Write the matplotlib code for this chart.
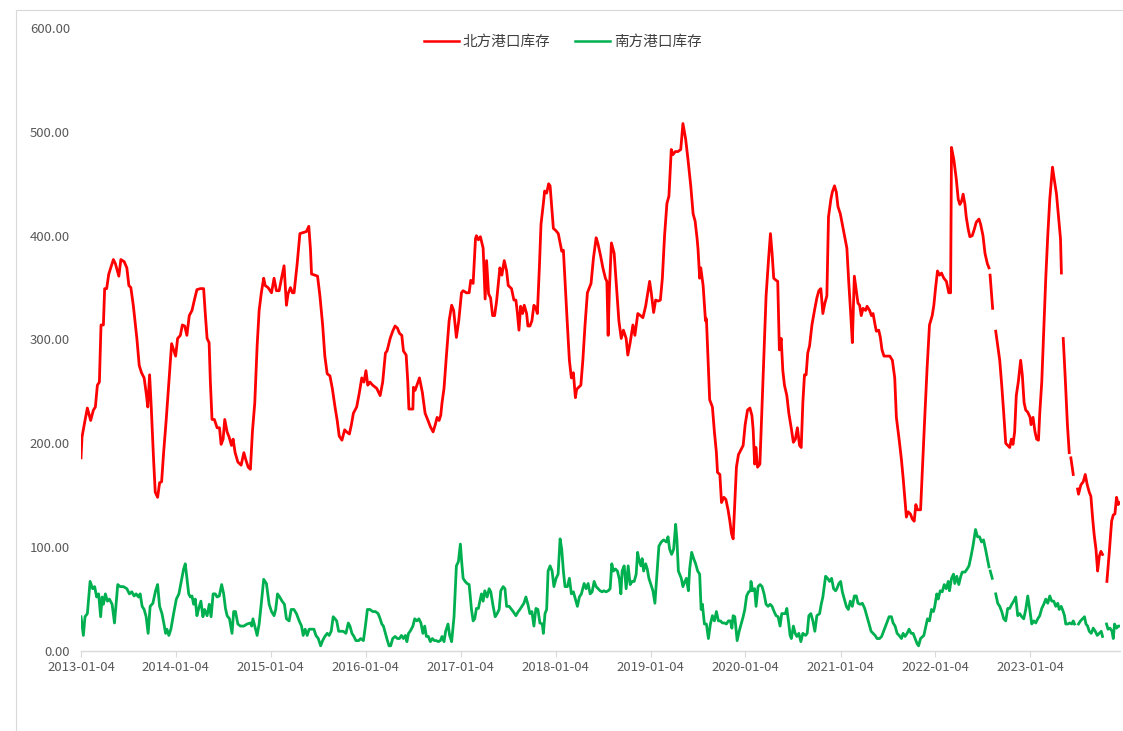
import numpy as np
import matplotlib
matplotlib.use("Agg")
import matplotlib.pyplot as plt
import matplotlib.dates as mdates
from matplotlib.patches import Rectangle

plt.rcParams['font.family'] = ['Noto Sans CJK SC', 'DejaVu Sans']

nan = np.nan
start_date = np.datetime64('2013-01-04')

# (weeks since 2013-01-04, value) -- nan marks a missing week
north = [
    (0.0,186),(0.55,206),(2.2,222),(3.5,234),(5.3,222),(6.8,232),(7.9,235),(9.0,256),(10.1,259),(11.0,314),
    (12.3,314),(13.0,349),(14.1,349),(15.25,363),(16.35,369),(17.8,377),(18.9,373),(20.8,361),(21.9,377),(23.7,375),
    (25.2,369),(26.3,352),(27.4,350),(28.8,332),(30.7,301),(32.0,275),(33.25,268),(34.7,263),(36.0,246),(36.7,235),
    (37.7,266),(38.6,235),(39.9,184),(40.8,153),(42.1,148),(43.2,162),(44.3,163),(45.4,191),(46.8,222),(48.3,259),
    (49.8,296),(50.9,290),(52.0,284),(53.1,301),(54.6,304),(55.7,314),(57.0,313),(58.2,304),(59.5,323),(61.0,328),
    (62.3,338),(63.7,348),(65.6,349),(67.4,349),(68.3,325),(69.3,301),(70.4,297),(71.1,259),(72.0,223),(73.3,223),
    (74.8,215),(76.1,215),(77.0,199),(78.1,204),(79.0,223),(80.3,211),(81.4,206),(82.7,198),(83.6,204),(84.7,191),
    (86.2,182),(88.0,179),(89.5,191),(90.6,184),(91.9,177),(93.1,175),
    (94.2,211),(95.5,239),(96.8,294),(97.9,328),(99.1,345),(100.4,359),(101.2,352),(102.8,350),(104.7,345),(106.1,359),
    (107.4,347),(108.9,347),(110.2,359),(111.6,371),(112.9,333),(113.8,344),(115.1,350),(116.2,345),(117.1,345),(118.8,373),
    (120.3,402),(122.1,403),(123.9,404),(125.2,409),(126.1,387),(126.7,363),(128.5,362),(130.0,361),(131.3,342),(132.8,314),
    (134.0,284),(135.3,267),(136.8,265),(138.1,253),(139.6,235),(140.8,222),(141.9,207),(143.4,203),(144.9,213),(146.0,211),
    (147.5,209),(148.6,218),(149.7,229),(151.5,235),(153.0,249),(154.3,263),(155.5,259),(156.6,270),(157.6,256),(158.8,259),
    (160.3,256),(162.5,253),(164.4,246),(165.8,259),(167.3,287),(168.2,289),(169.9,301),(171.3,308),(172.6,313),(173.9,311),
    (175.0,306),(176.3,304),(177.2,289),(178.7,285),(179.6,259),(180.2,233),(181.3,233),(182.4,233),(182.7,254),(183.6,251),
    (184.6,256),(186.0,263),
    (187.6,249),(189.1,229),(190.7,222),(192.0,216),(193.5,211),(194.7,218),(195.7,225),(196.8,222),(197.7,227),(198.4,239),
    (199.5,253),(200.8,284),(202.3,318),(203.7,333),(204.8,328),(206.3,302),(207.6,318),(209.1,345),(210.0,347),(211.8,345),
    (213.3,345),(214.2,357),(215.5,354),(216.8,397),(217.3,400),(218.4,396),(219.5,399),(221.0,388),(222.1,339),(222.9,376),
    (224.0,344),(225.1,340),(226.2,323),(227.3,323),(228.4,337),(230.2,369),(231.3,362),(232.6,376),(233.9,366),(234.8,352),
    (236.6,349),(237.9,338),(239.0,338),(239.8,326),(240.7,309),(241.6,332),(242.7,325),(243.6,333),(244.9,325),(245.6,313),
    (246.7,313),(247.8,318),(248.9,333),(250.0,330),(250.8,325),(251.9,369),(252.8,411),(254.1,431),(254.8,443),(255.9,441),
    (257.0,450),(257.8,448),(258.7,428),(259.6,407),(260.9,405),(262.3,402),(263.3,393),(264.2,385),(265.1,386),(266.2,349),
    (267.3,314),(268.4,280),(269.5,263),(270.6,268),(271.7,244),(272.4,252),(273.5,254),(274.7,256),(275.8,280),(277.0,314),
    (278.3,345),
    (280.3,354),(281.6,378),(283.1,398),(284.0,393),(285.5,381),(286.8,369),(288.2,359),(289.0,356),(289.7,304),(290.4,349),
    (291.5,393),(293.0,383),(294.1,356),(295.6,318),(296.9,301),(298.1,309),(299.6,301),(300.5,285),(301.8,297),(303.3,314),
    (304.4,304),(306.0,325),(307.5,323),(308.8,321),(310.3,332),(311.2,342),(312.5,356),(313.4,345),(314.7,326),(315.8,338),
    (317.3,337),(318.4,338),(319.5,359),(320.7,400),(322.0,431),(323.1,438),(324.4,483),(325.3,478),(326.6,481),(328.1,481),
    (329.6,483),(330.8,508),(332.3,493),(333.6,473),(335.1,448),(336.4,421),(337.5,414),(338.6,397),(339.1,387),(340.0,359),
    (340.6,369),(341.9,352),(343.2,318),(343.7,320),(344.6,280),(345.5,242),(347.0,235),(348.1,211),(349.2,191),(349.8,172),
    (351.1,170),(352.0,143),(353.3,148),(354.4,146),(355.6,136),(356.6,125),(357.5,113),(358.4,108),(359.3,143),(360.2,177),
    (361.3,189),(363.0,195),(363.9,198),(365.0,218),(366.3,232),(367.6,234),(368.7,227),(369.4,213),(370.2,180),(370.9,196),
    (371.8,177),(373.1,180),
    (373.9,218),(375.0,273),(376.5,342),(377.8,376),(378.9,402),(379.8,383),(380.7,359),(382.0,357),(382.9,356),(383.8,290),
    (384.8,301),(385.7,270),(386.6,256),(387.9,246),(389.0,229),(390.3,215),(391.5,201),(392.6,204),(393.7,215),(394.9,198),
    (395.8,196),(396.7,239),(397.6,266),(398.5,266),(399.4,287),(400.4,294),(401.7,314),(403.1,328),(404.4,340),(405.5,347),
    (406.6,349),(407.7,325),(408.8,335),(409.9,342),(410.8,418),(412.1,435),(412.9,442),(414.1,448),(415.1,442),(416.0,428),
    (417.3,421),(418.4,411),(419.7,399),(420.9,388),(421.9,356),(423.0,325),(423.9,297),(425.0,361),(426.1,347),(427.0,335),
    (427.9,333),(428.8,323),(429.8,330),(431.2,328),(432.0,332),(433.4,328),(434.4,323),(435.3,325),(436.4,314),(437.1,308),
    (438.4,309),(439.3,302),(440.2,290),(441.3,284),(442.6,284),(444.5,284),(445.9,280),(447.2,263),(448.1,225),(449.6,204),
    (450.9,184),(451.8,167),(452.9,143),(453.6,129),(454.6,134),(455.8,132),(456.9,127),(457.9,125),(458.8,141),(459.7,136),
    (461.4,136),
    (462.2,167),(463.7,225),(465.0,273),(466.3,314),(467.8,323),(468.7,333),(469.6,349),(470.7,366),(471.8,362),(472.9,364),
    (474.2,359),(475.6,356),(476.9,345),(477.9,345),(478.4,485),(479.7,473),(481.0,455),(482.1,435),(483.0,430),(483.9,433),
    (484.8,440),(485.8,430),(486.5,418),(487.6,406),(488.5,399),(489.8,400),(490.9,406),(492.0,413),(493.5,416),(494.4,411),
    (495.7,400),(496.8,383),(498.1,373),(499.0,369),(499.3,nan),(499.6,362),(501.0,330),(501.8,nan),(502.7,308),(503.8,294),
    (504.9,280),(506.0,256),(507.1,229),(508.2,200),(509.3,198),(510.4,196),(511.3,204),(512.2,199),(513.1,211),(514.0,246),
    (515.1,259),(516.4,280),(517.3,266),(518.3,239),(519.2,232),(520.3,230),(521.6,225),(522.1,218),(523.2,225),(524.3,211),
    (525.2,204),(526.2,203),(526.9,229),(528.0,259),(529.1,308),(530.2,359),(531.3,400),(532.4,435),(533.9,466),(534.8,455),
    (536.1,440),(537.2,418),(538.3,397),(538.8,364),(539.3,nan),(539.8,301),(540.9,263),(542.1,218),(543.1,191),(543.5,nan),
    (544.0,186),(545.3,170),(546.5,nan),(547.7,156),(548.2,151),(549.5,160),(550.8,163),(551.9,170),(553.0,160),(554.1,153),
    (555.0,149),(555.9,129),(556.8,112),(557.8,98),(558.7,77),(559.6,91),(560.5,96),(561.4,93),(562.6,nan),(563.8,67),
    (565.1,95),(566.4,125),(567.3,131),(568.2,132),(569.1,148),(570.0,141),(570.6,143),
]

south = [
    (0.0,33),(1.3,15),(2.2,33),(3.5,36),(5.0,67),(6.4,60),(7.5,62),(8.6,52),(9.7,55),(10.8,33),
    (11.6,52),(12.3,45),(13.4,55),(14.5,48),(15.6,50),(17.1,45),(18.4,27),(19.3,45),(20.2,64),(21.5,62),
    (23.3,62),(25.2,60),(26.6,55),(27.9,57),(29.2,53),(30.3,55),(31.6,52),(32.5,55),(33.6,43),(34.7,40),
    (35.8,33),(36.9,17),(38.0,43),(39.5,46),(41.0,58),(42.1,64),(43.2,43),(44.5,36),(45.6,26),(46.5,17),
    (47.2,21),(48.3,15),(49.4,21),(50.9,36),(52.4,50),(53.8,55),(55.1,67),(56.4,79),(57.3,84),(58.2,70),
    (59.2,55),(60.1,52),(61.0,53),(61.9,45),(62.8,50),(63.7,34),(64.7,41),(65.9,48),(67.0,33),(67.9,40),
    (69.3,34),(70.5,45),(71.5,33),(72.6,55),(73.8,55),(74.8,52),(76.0,53),(77.3,64),(78.4,55),(79.4,41),
    (80.3,34),(81.6,31),(83.0,17),(83.9,38),(84.9,38),(86.2,26),(87.6,24),(89.5,24),(91.3,26),(93.1,27),
    (93.8,24),(94.5,31),(95.5,24),(96.8,15),(97.9,26),(99.1,46),(100.4,69),(101.9,65),(103.4,45),(104.7,38),
    (106.1,34),(107.0,40),(108.0,55),(109.2,52),(110.5,48),(111.8,45),(112.9,31),(114.4,29),(115.5,40),(117.0,40),
    (118.4,36),(119.9,29),(121.2,24),(122.1,15),(123.2,21),(124.3,15),(125.4,21),(126.5,21),(128.0,21),(129.1,15),
    (130.4,12),(131.7,5),(132.8,10),(134.0,14),(135.3,17),(136.4,15),(137.5,19),(138.6,33),(139.6,31),(140.5,29),
    (141.6,19),(142.9,19),(144.1,19),(145.6,17),(146.9,27),(147.8,24),(148.9,17),(150.0,14),(151.1,10),(152.6,10),
    (153.7,12),(155.2,10),(156.3,24),(157.4,40),(158.8,40),(160.3,38),(161.8,38),(163.3,36),(164.4,31),(165.3,26),
    (166.2,24),(167.3,17),(168.4,10),(169.3,5),(170.2,5),(171.3,12),(172.6,14),(173.9,12),(175.0,12),(176.1,15),
    (177.2,12),(178.3,15),(179.1,9),(180.0,17),(180.9,19),
    (182.4,24),(183.4,31),(184.6,29),(185.7,31),(186.8,27),(187.9,17),(188.9,24),(189.8,14),(190.9,14),(192.0,9),
    (193.1,12),(194.2,10),(195.3,10),(196.4,9),(197.5,10),(198.4,14),(199.5,9),(200.4,19),(201.7,26),(202.6,15),
    (203.7,9),(205.0,33),(206.3,82),(207.4,86),(208.5,103),(209.3,84),(210.0,70),(211.1,67),(212.2,65),(213.3,64),
    (214.6,40),(215.5,29),(216.4,31),(217.3,41),(218.4,41),(219.2,48),(220.1,55),(221.0,48),(221.9,58),(223.2,52),
    (224.3,60),(225.2,57),(226.5,43),(227.6,33),(228.7,36),(229.8,40),(230.7,58),(232.0,62),(233.0,60),(233.9,43),
    (235.3,43),(236.6,40),(237.5,38),(239.0,34),(240.3,38),(241.2,40),(242.3,43),(243.4,46),(244.5,52),(245.6,45),
    (246.7,36),(247.8,38),(248.9,24),(250.0,41),(251.1,40),(252.2,27),(253.5,26),(254.1,17),(255.0,36),(255.9,40),
    (256.7,77),(257.8,82),(258.9,77),(259.9,62),(261.1,70),(262.2,74),(263.3,108),(264.2,98),(265.1,77),(266.0,62),
    (267.3,62),(268.4,70),(269.5,55),(270.6,57),(271.7,50),(272.8,43),(273.9,52),(275.0,55),
    (276.5,65),(277.6,60),(278.7,65),(279.8,55),(280.9,57),(282.0,67),(283.1,62),(284.2,60),(285.3,58),(286.4,57),
    (287.3,58),(288.6,57),(289.7,58),(290.8,60),(291.7,84),(292.6,77),(293.7,79),(294.8,77),(295.9,69),(296.7,55),
    (297.4,77),(298.5,82),(299.6,60),(300.7,82),(301.8,64),(302.9,67),(304.0,67),(305.1,74),(305.9,95),(306.6,88),
    (307.7,82),(308.4,89),(309.2,77),(310.3,84),(311.2,79),(312.1,70),(313.2,64),(314.3,58),(315.4,46),(316.5,74),
    (317.6,101),(318.9,105),(320.2,107),(321.7,105),(322.6,110),(323.5,98),(324.6,93),(325.7,98),(326.8,122),(327.5,107),
    (328.3,77),(329.0,74),(329.9,70),(330.8,62),(331.9,67),(332.7,70),(333.8,58),(334.5,79),(335.6,95),(336.7,89),
    (337.8,84),(338.9,77),(340.0,74),(340.8,40),(341.5,45),(342.6,26),(343.7,26),(344.8,12),(345.9,26),(347.0,34),
    (348.1,29),(349.2,38),(350.3,29),(351.4,29),(352.5,27),(353.6,27),(354.7,26),(355.8,29),(356.9,29),(357.7,22),
    (358.4,34),(359.3,33),(360.6,10),(361.7,19),(362.8,26),(363.9,33),(364.8,40),(365.8,53),(366.9,57),(367.9,58),
    (368.2,67),(369.1,58),(370.2,60),(371.0,43),(372.1,62),(373.2,64),(374.3,62),(375.4,55),(376.5,45),(377.6,43),
    (378.7,45),(379.8,43),(380.9,38),(382.0,34),(383.1,33),(384.2,24),(385.1,36),(386.0,36),(387.1,36),(387.9,41),
    (389.0,26),(389.7,15),(390.4,12),(391.5,24),(392.5,17),(393.4,14),(394.5,17),(395.6,9),(396.7,17),(398.2,15),
    (399.1,17),(400.0,34),(401.1,36),(402.2,29),(403.3,19),(404.4,34),(405.9,36),(406.8,45),(407.7,52),(409.2,72),
    (410.3,70),(411.4,67),(412.5,70),(413.6,60),(414.7,58),(415.4,60),(416.5,65),(417.5,67),(418.4,57),(419.5,50),
    (420.6,43),(421.7,40),(422.8,48),(423.9,43),(425.0,53),(426.1,53),(427.0,46),(428.3,45),(429.4,46),(430.7,41),
    (432.0,33),(433.1,26),(434.2,19),(435.3,17),(436.4,15),(437.5,12),(438.9,12),(440.0,14),(441.1,19),(442.6,26),
    (444.1,33),(445.4,33),(446.3,27),(447.4,24),(448.5,17),(449.6,15),(450.9,12),(451.8,17),(452.9,14),(454.0,17),
    (455.1,21),(456.2,17),(457.3,17),(458.4,12),(459.5,7),(460.3,5),(461.4,12),
    (463.2,15),(464.1,22),(465.2,31),(466.3,29),(467.4,40),(468.5,38),(469.2,43),(470.3,55),(471.1,50),(472.2,58),
    (473.3,57),(474.4,64),(475.5,60),(476.6,67),(477.3,58),(478.4,70),(479.5,74),(480.2,65),(481.3,72),(482.4,64),
    (483.5,72),(484.3,76),(485.8,76),(487.0,79),(488.0,82),(489.1,91),(490.2,101),(491.6,117),(492.7,110),(493.8,110),
    (494.9,105),(496.0,107),(497.1,98),(498.2,88),(499.0,81),(499.3,nan),(499.7,77),(500.8,70),(501.8,nan),(502.7,55),
    (503.8,46),(504.9,43),(506.0,38),(507.1,31),(508.2,29),(509.3,41),(510.4,41),(511.5,45),(512.6,48),(513.7,52),
    (514.8,34),(515.9,36),(517.0,33),(518.1,31),(519.2,40),(520.3,53),(521.4,40),(522.5,26),(523.6,29),(524.7,27),
    (525.8,31),(526.9,34),(528.0,41),(529.1,45),(530.2,50),(531.3,46),(532.4,53),(533.5,48),(534.6,48),(535.7,43),
    (536.8,46),(537.6,40),(538.7,43),(539.8,38),(540.5,34),(541.2,26),(542.3,26),(543.4,27),(544.5,26),(545.3,29),
    (546.0,26),(546.5,nan),(548.2,26),(549.3,29),(550.4,31),(551.5,33),(552.3,26),(553.2,24),(554.1,19),(555.2,17),
    (556.3,22),(557.4,19),(558.5,15),(559.6,17),(560.7,19),(561.4,14),(562.6,nan),(563.6,26),(564.4,21),(565.5,22),
    (566.6,19),(567.3,12),(568.0,26),(569.1,22),(570.0,24),(570.6,24),
]

labels = ['北方港口库存', '南方港口库存']
colors = ['#FF0000', '#00B050']
yticks = [0, 100, 200, 300, 400, 500, 600]


def to_dates(series):
    arr = np.array(series, dtype=float)
    x = mdates.date2num(start_date) + arr[:, 0] * 7
    return x, arr[:, 1]


fig = plt.figure(figsize=(11.23, 7.31), dpi=100)
ax = fig.add_axes([81 / 1123, 1 - 651 / 731, 1039 / 1123, 623 / 731])

for series, lab, col in zip([north, south], labels, colors):
    x, y = to_dates(series)
    ax.plot(x, y, color=col, lw=2.0, label=lab, solid_joinstyle='round')

x0 = mdates.date2num(start_date)
ax.set_xlim(x0, x0 + 571 * 7)
ax.set_ylim(0, 600)
ax.set_yticks(yticks)
ax.yaxis.set_major_formatter(plt.FuncFormatter(lambda v, p: f"{v:.2f}"))
ax.xaxis.set_major_locator(mdates.YearLocator(base=1, month=1, day=4))
ax.xaxis.set_major_formatter(mdates.DateFormatter('%Y-%m-%d'))

for s in ['left', 'right', 'top']:
    ax.spines[s].set_visible(False)
ax.spines['bottom'].set_color('#D9D9D9')
ax.spines['bottom'].set_linewidth(1.0)
ax.tick_params(axis='y', length=0, pad=8, labelsize=9.5, labelcolor='#595959')
ax.tick_params(axis='x', length=4, width=0.8, color='#D9D9D9', pad=3,
               labelsize=9.5, labelcolor='#595959')

leg = ax.legend(loc='center', bbox_to_anchor=(0.464, 0.9775), ncol=2, frameon=False,
                fontsize=10.5, handlelength=2.4, handletextpad=0.25, columnspacing=1.7,
                labelcolor='#404040')
for h in leg.get_lines():
    h.set_linewidth(1.8)

# outer chart frame (cropped at right and bottom)
fig.patches.append(Rectangle((16 / 1123, -0.1), 1.2, 1.1 - 10 / 731,
                             transform=fig.transFigure, fill=False,
                             edgecolor='#D9D9D9', lw=0.8))

fig.savefig('out.png', dpi=100)
